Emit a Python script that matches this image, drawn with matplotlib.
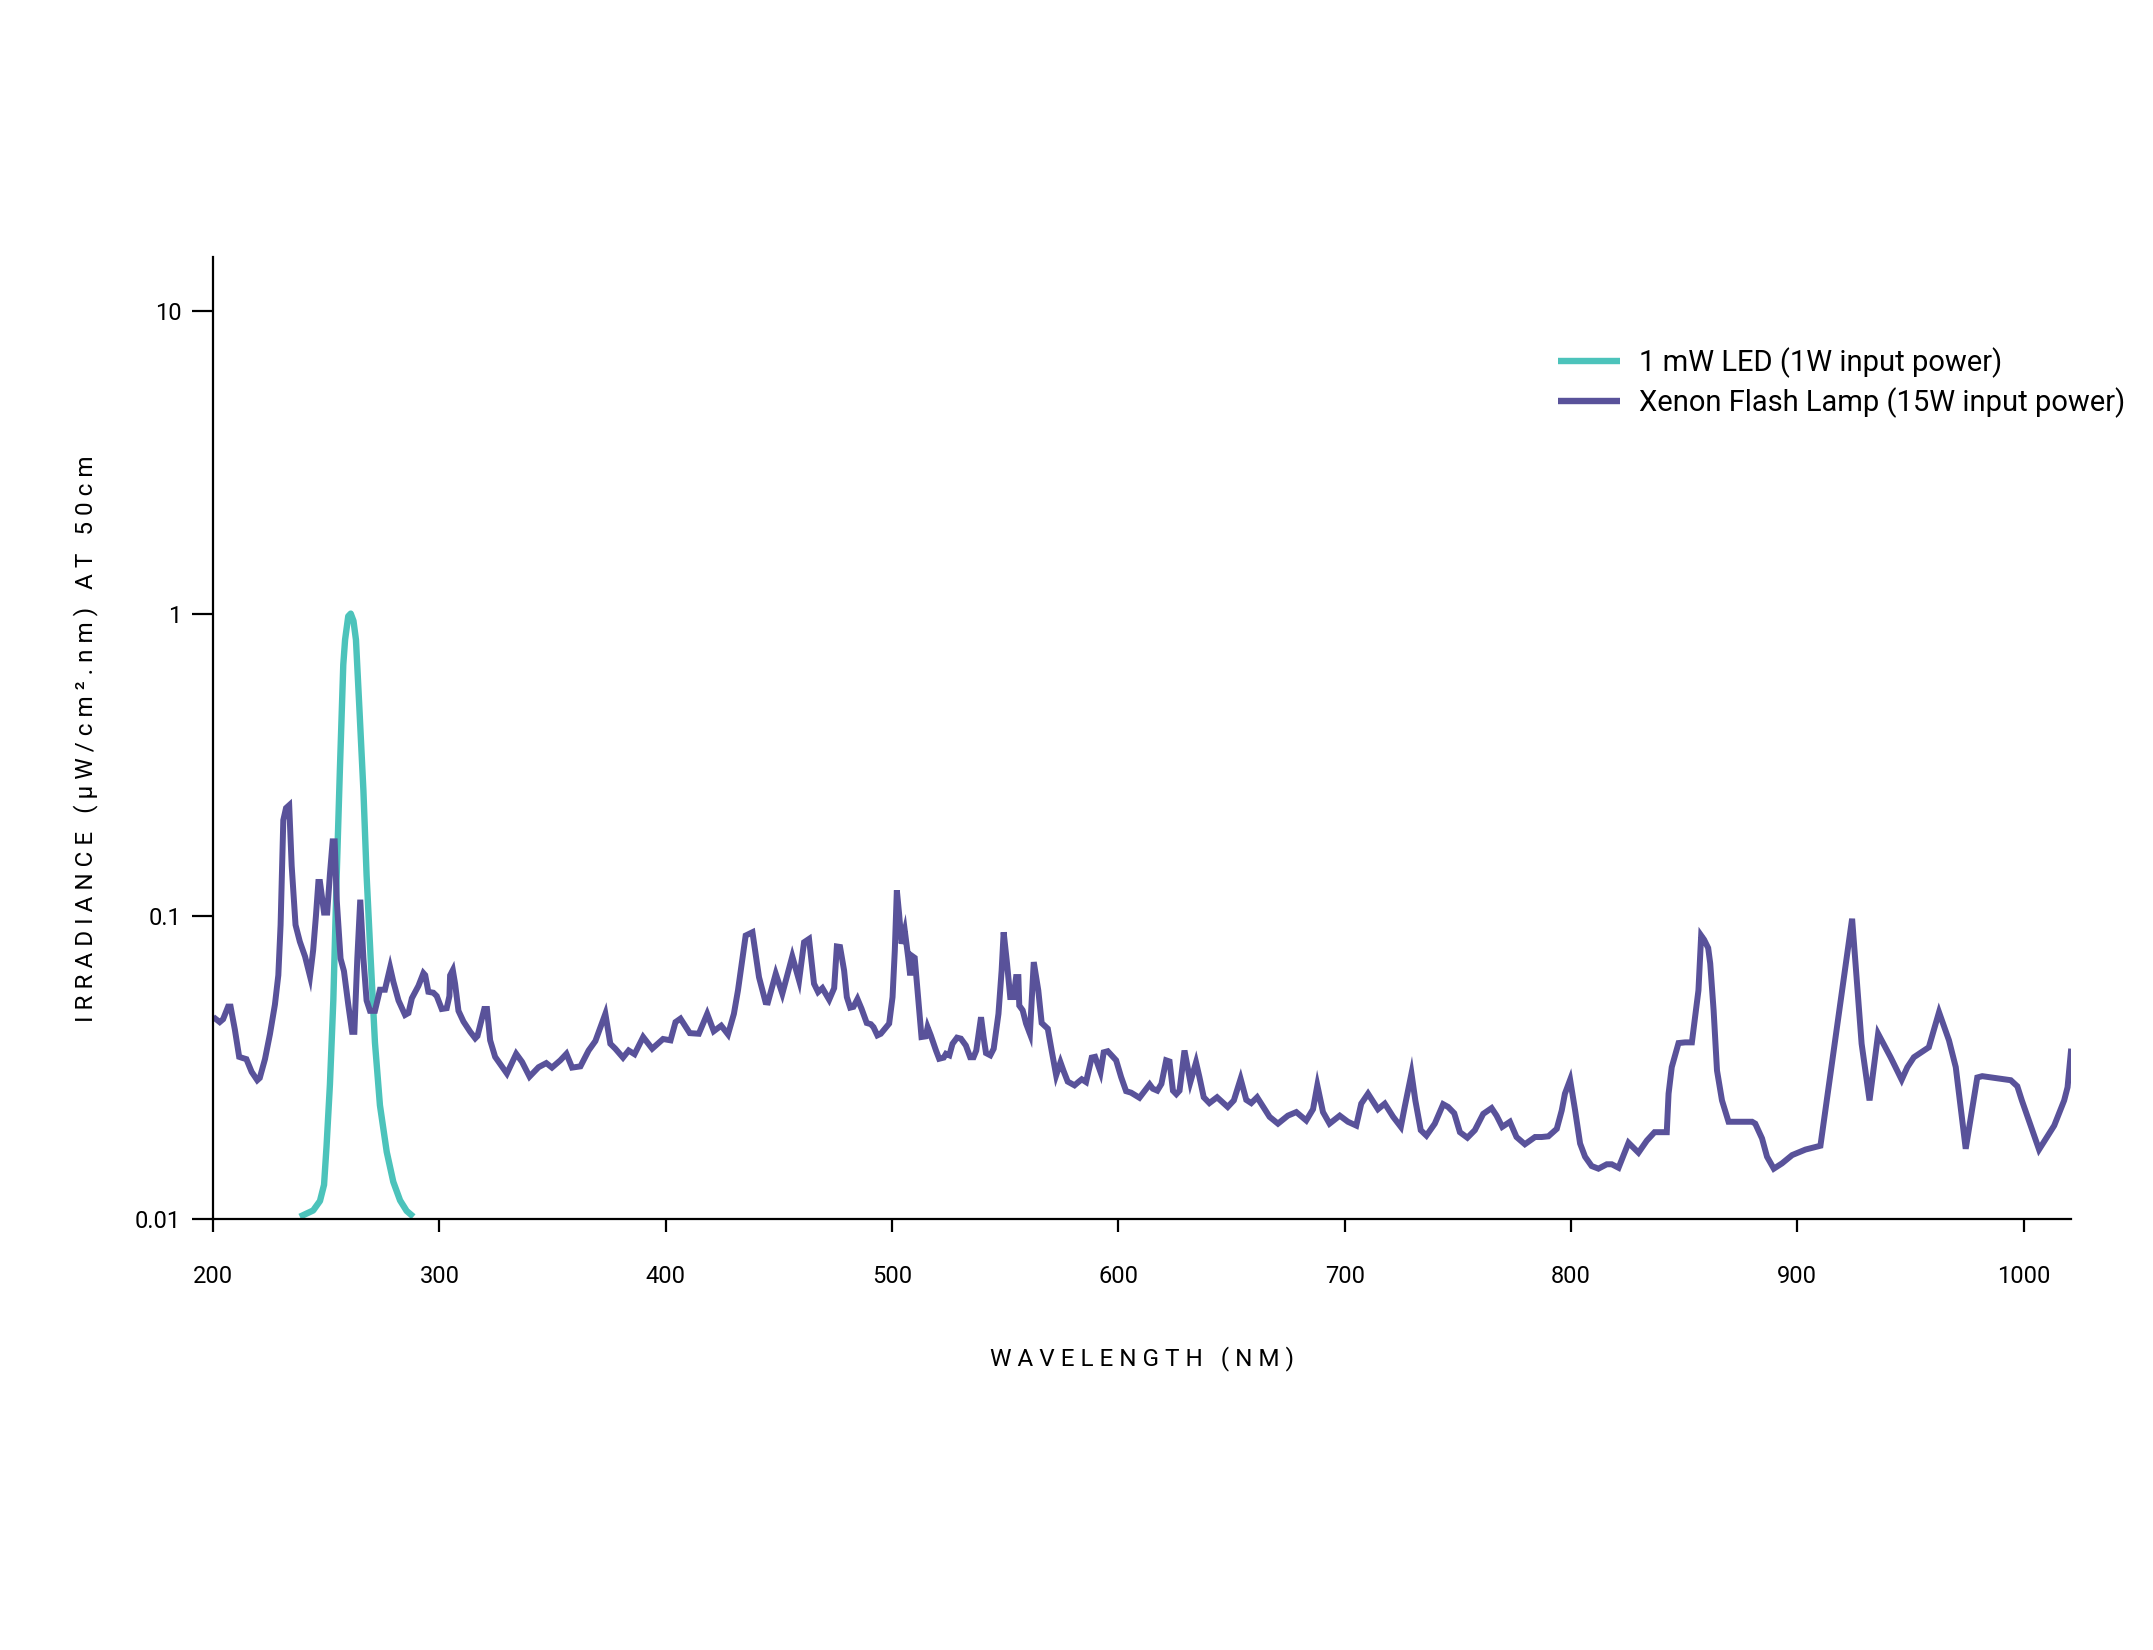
import matplotlib
matplotlib.use("Agg")
import matplotlib.pyplot as plt
from matplotlib.ticker import FixedLocator, FixedFormatter, NullLocator

plt.rcParams['font.family'] = ['Roboto', 'DejaVu Sans']

# Xenon flash lamp spectrum (nm, uW/cm2.nm)
xenon_nm = [
    200.0, 202.9, 204.4, 206.6, 207.7, 209.6, 211.5, 213.0, 214.7, 217.0, 219.5, 220.6,
    222.9, 225.1, 227.3, 228.8, 229.8, 231.0, 232.2, 233.6, 234.7, 236.4, 238.3, 240.6,
    242.8, 244.2, 245.4, 246.5, 247.2, 249.0, 250.4, 251.6, 252.8, 253.7, 254.6, 256.3,
    257.8, 259.7, 261.4, 262.4, 263.7, 265.0, 266.4, 267.8, 269.3, 271.5, 273.7, 275.9,
    278.2, 279.6, 281.9, 284.8, 286.3, 287.8, 290.7, 292.9, 293.7, 295.1, 297.3, 298.8,
    301.0, 303.2, 304.4, 304.7, 305.9, 306.9, 308.4, 310.6, 313.6, 315.8, 316.8, 319.8,
    321.0, 322.4, 324.6, 329.8, 333.9, 336.5, 339.8, 343.8, 347.2, 349.7, 353.4, 356.1,
    358.6, 362.3, 365.9, 368.9, 373.3, 375.5, 377.7, 381.1, 383.6, 386.2, 390.0, 394.0,
    398.8, 402.1, 404.3, 406.5, 410.6, 414.6, 418.3, 421.2, 424.5, 427.5, 430.1, 431.9,
    435.3, 438.3, 441.2, 444.1, 445.1, 448.6, 451.5, 455.9, 458.9, 461.1, 463.3, 465.5,
    467.3, 469.2, 472.2, 474.4, 475.6, 477.0, 478.8, 480.0, 481.5, 482.9, 484.7, 486.5,
    488.8, 490.6, 491.8, 493.5, 495.0, 496.8, 498.7, 500.2, 501.2, 502.1, 503.1, 504.2,
    505.6, 507.1, 508.0, 509.0, 510.0, 511.5, 513.0, 514.9, 515.7, 517.1, 519.4, 520.8,
    522.8, 523.8, 525.3, 526.7, 528.7, 530.4, 532.6, 534.5, 536.0, 537.2, 539.3, 540.4,
    541.5, 543.4, 544.9, 547.0, 548.4, 549.3, 550.8, 552.2, 553.7, 554.8, 555.8, 556.2,
    557.7, 559.2, 560.9, 562.6, 564.6, 566.1, 568.8, 570.5, 572.5, 574.4, 575.7, 577.6,
    580.6, 582.3, 583.8, 585.7, 588.2, 589.7, 592.1, 593.5, 595.3, 599.0, 601.2, 603.4,
    605.6, 609.3, 611.5, 613.8, 615.2, 617.2, 619.0, 621.1, 622.6, 624.1, 625.6, 627.0,
    629.2, 631.8, 634.3, 635.8, 637.7, 640.2, 643.6, 648.3, 651.0, 654.0, 656.5, 658.7,
    661.3, 666.8, 670.5, 674.9, 678.6, 683.0, 686.0, 687.9, 690.4, 693.3, 697.8, 701.4,
    705.1, 707.3, 710.3, 714.7, 717.7, 721.4, 724.8, 726.5, 729.5, 731.2, 733.6, 736.1,
    739.8, 743.5, 745.7, 748.4, 750.9, 754.2, 757.5, 761.2, 764.9, 767.1, 769.6, 773.0,
    775.9, 779.6, 784.1, 787.0, 790.0, 793.7, 795.9, 797.3, 799.6, 801.8, 804.0, 806.2,
    809.1, 812.1, 815.8, 818.0, 821.0, 825.4, 829.8, 833.5, 836.9, 842.3, 843.1, 844.5,
    847.5, 850.4, 853.4, 856.3, 857.5, 858.8, 860.6, 861.5, 863.0, 864.5, 866.7, 869.6,
    880.0, 881.4, 884.4, 886.6, 889.6, 893.2, 897.7, 903.6, 910.2, 924.2, 928.4, 931.9,
    935.7, 941.2, 946.1, 948.6, 951.5, 958.1, 962.6, 967.0, 970.0, 974.4, 979.5, 981.7,
    994.3, 997.2, 999.2, 1006.8, 1013.5, 1017.9, 1019.4, 1021.0,
]
xenon_irr = [
    0.0466, 0.0448, 0.0458, 0.0504, 0.0504, 0.0423, 0.0344, 0.0341, 0.0338, 0.0307, 0.0288, 0.0293,
    0.0338, 0.0409, 0.0512, 0.064, 0.0938, 0.208, 0.228, 0.233, 0.147, 0.0938, 0.0826, 0.0738,
    0.0635, 0.0775, 0.100, 0.130, 0.130, 0.103, 0.103, 0.138, 0.177, 0.177, 0.1136, 0.0726,
    0.066, 0.0512, 0.0416, 0.0416, 0.0726, 0.1136, 0.0726, 0.0528, 0.0488, 0.0488, 0.0573, 0.0573,
    0.0678, 0.061, 0.0528, 0.0473, 0.048, 0.0537, 0.059, 0.065, 0.064, 0.0564, 0.056, 0.0546,
    0.0495, 0.0498, 0.0546, 0.0639, 0.0665, 0.060, 0.0488, 0.045, 0.0416, 0.0396, 0.0403, 0.0495,
    0.0495, 0.039, 0.0344, 0.0303, 0.0352, 0.0331, 0.0296, 0.0318, 0.0328, 0.0317, 0.0335, 0.0352,
    0.0317, 0.032, 0.0361, 0.0388, 0.0477, 0.038, 0.0366, 0.0342, 0.0361, 0.0351, 0.040, 0.0366,
    0.0394, 0.039, 0.0448, 0.046, 0.0412, 0.041, 0.0477, 0.0418, 0.0436, 0.0408, 0.0477, 0.057,
    0.0865, 0.0887, 0.063, 0.0521, 0.052, 0.0647, 0.0556, 0.0738, 0.0615, 0.0822, 0.0843, 0.060,
    0.0563, 0.058, 0.0531, 0.058, 0.0796, 0.0793, 0.0663, 0.0542, 0.050, 0.0503, 0.0534, 0.0496,
    0.0445, 0.0441, 0.0431, 0.0405, 0.041, 0.0426, 0.0443, 0.0542, 0.0772, 0.122, 0.102, 0.0813,
    0.0899, 0.0734, 0.0639, 0.0739, 0.073, 0.0542, 0.040, 0.0402, 0.0431, 0.0405, 0.0361, 0.0339,
    0.0342, 0.0352, 0.0348, 0.038, 0.0398, 0.0395, 0.0375, 0.0343, 0.0343, 0.0361, 0.0465, 0.0401,
    0.0354, 0.0348, 0.0366, 0.0477, 0.0663, 0.0887, 0.0698, 0.0542, 0.0542, 0.0631, 0.0631, 0.0508,
    0.049, 0.0443, 0.041, 0.0707, 0.057, 0.0445, 0.0426, 0.0361, 0.0299, 0.033, 0.031, 0.0285,
    0.0277, 0.0284, 0.029, 0.0284, 0.0342, 0.0344, 0.0306, 0.0356, 0.0359, 0.0335, 0.0295, 0.0265,
    0.0262, 0.0252, 0.0265, 0.0279, 0.027, 0.0266, 0.028, 0.0335, 0.0332, 0.0266, 0.0259, 0.0266,
    0.0361, 0.0284, 0.033, 0.0295, 0.0253, 0.0242, 0.0253, 0.0235, 0.0247, 0.0291, 0.0248, 0.0242,
    0.0253, 0.0218, 0.0207, 0.022, 0.0226, 0.0212, 0.0231, 0.0277, 0.0226, 0.0207, 0.022, 0.021,
    0.0204, 0.0241, 0.026, 0.0231, 0.0241, 0.0218, 0.0202, 0.0235, 0.0303, 0.0247, 0.0197, 0.0189,
    0.0207, 0.024, 0.0235, 0.0224, 0.0194, 0.0186, 0.0197, 0.0223, 0.0233, 0.022, 0.0202, 0.021,
    0.0187, 0.0177, 0.0187, 0.0187, 0.0188, 0.0199, 0.0229, 0.026, 0.0289, 0.0229, 0.0178, 0.0161,
    0.015, 0.0147, 0.0152, 0.0152, 0.0148, 0.0179, 0.0166, 0.0182, 0.0194, 0.0194, 0.026, 0.0318,
    0.0382, 0.0384, 0.0384, 0.057, 0.0865, 0.0838, 0.0787, 0.070, 0.049, 0.031, 0.0247, 0.021,
    0.021, 0.0207, 0.0185, 0.0161, 0.0147, 0.0153, 0.0163, 0.017, 0.0175, 0.0983, 0.038, 0.0247,
    0.041, 0.0343, 0.0289, 0.0318, 0.0343, 0.037, 0.0483, 0.039, 0.0318, 0.0171, 0.0294, 0.0297,
    0.0288, 0.0275, 0.0247, 0.017, 0.0204, 0.0247, 0.0273, 0.0366,
]

# 1 mW LED spectrum
led_nm = [238.3, 244.2, 247.2, 249.0, 250.1, 251.6, 253.1, 254.6, 256.0, 257.5, 258.3,
          259.7, 260.8, 262.0, 263.1, 264.6, 266.4, 267.8, 269.6, 271.5, 273.7, 276.7,
          279.6, 282.6, 285.5, 288.5]
led_irr = [0.0102, 0.0107, 0.0115, 0.0130, 0.0174, 0.0279, 0.0528, 0.137, 0.305, 0.678, 0.82,
           0.98, 1.0, 0.946, 0.82, 0.49, 0.26, 0.137, 0.0726, 0.0383, 0.0238, 0.0167,
           0.0133, 0.01155, 0.01066, 0.0102]

x_ticks = [200, 300, 400, 500, 600, 700, 800, 900, 1000]
y_ticks = [0.01, 0.1, 1, 10]
y_tick_labels = ['0.01', '0.1', '1', '10']

led_color = '#4cc3bb'
xenon_color = '#59529a'

fig = plt.figure(figsize=(21.53, 16.50), dpi=100)
ax = fig.add_axes([0.099, 0.261, 0.863, 0.583])

ax.plot(led_nm, led_irr, color=led_color, lw=4.6, label='1 mW LED (1W input power)',
        solid_capstyle='butt', solid_joinstyle='round')
ax.plot(xenon_nm, xenon_irr, color=xenon_color, lw=4.3,
        label='Xenon Flash Lamp (15W input power)', solid_capstyle='butt', solid_joinstyle='miter')

ax.set_yscale('log')
ax.set_xlim(200, 1021)
ax.set_ylim(0.01, 15)

ax.xaxis.set_major_locator(FixedLocator(x_ticks))
ax.yaxis.set_major_locator(FixedLocator(y_ticks))
ax.yaxis.set_major_formatter(FixedFormatter(y_tick_labels))
ax.yaxis.set_minor_locator(NullLocator())

for side in ['top', 'right']:
    ax.spines[side].set_visible(False)
for side in ['left', 'bottom']:
    ax.spines[side].set_linewidth(1.6)
    ax.spines[side].set_color('black')

ax.tick_params(axis='y', length=15, width=1.6, pad=8, labelsize=17)
ax.tick_params(axis='x', length=9, width=1.6, pad=24, labelsize=17)

ylab = ' '.join('IRRADIANCE') + '   ' + ' '.join('(μW/cm².nm)') + '   ' + ' '.join('AT') + '   ' + ' '.join('50cm')
xlab = ' '.join('WAVELENGTH') + '   ' + ' '.join('(NM)')
ax.set_ylabel(ylab, fontsize=17.5, labelpad=27)
ax.set_xlabel(xlab, fontsize=17.5, labelpad=42)

leg = ax.legend(loc='upper left', bbox_to_anchor=(0.724, 0.906), frameon=False,
                fontsize=21, handlelength=2.12, handletextpad=0.63, labelspacing=0.31,
                borderpad=0, borderaxespad=0)
for line in leg.get_lines():
    line.set_linewidth(4.6)

fig.savefig('out.png', dpi=100)
